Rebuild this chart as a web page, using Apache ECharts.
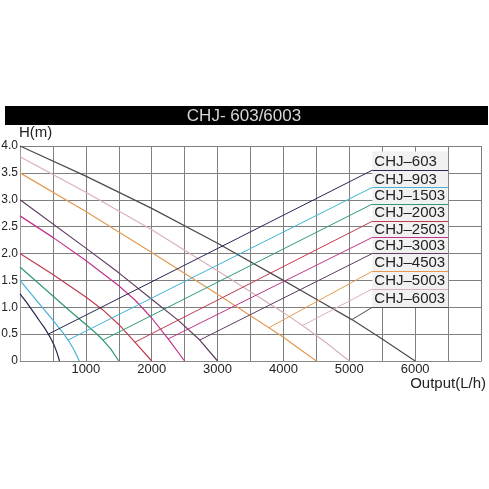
<!DOCTYPE html>
<html>
<head>
<meta charset="utf-8">
<script src="https://cdn.jsdelivr.net/npm/echarts@6/dist/echarts.min.js"></script>
<style>html,body{margin:0;padding:0;background:#fff;}#c{width:489px;height:489px;}</style>
</head>
<body>
<div id="c"></div>
<script>
const titleText = 'CHJ- 603/6003';
const xName = 'Output(L/h)';
const yName = 'H(m)';
const models = ['CHJ–603','CHJ–903','CHJ–1503','CHJ–2003','CHJ–2503','CHJ–3003','CHJ–4503','CHJ–5003','CHJ–6003'];
const colors = ['#26264f','#45b2d6','#2f9a72','#be3c4e','#c2338c','#5e3d60','#e39a52','#d9b1ba','#4b4b4b'];

// pump curves: [flow L/h, head m]
const c603  = [[0,1.25],[100,1.09],[175,0.96],[250,0.83],[300,0.74],[370,0.62],[430,0.5],[480,0.39],[520,0.29],[560,0.16],[600,0]];
const c903  = [[0,1.5],[250,1.13],[500,0.76],[650,0.53],[730,0.39],[820,0.21],[900,0]];
const c1503 = [[0,1.75],[250,1.48],[500,1.21],[750,0.94],[1000,0.68],[1150,0.52],[1260,0.39],[1380,0.22],[1500,0]];
const c2003 = [[0,2.0],[500,1.61],[1000,1.19],[1250,0.96],[1500,0.68],[1745,0.35],[2000,0]];
const c2503 = [[0,2.7],[500,2.3],[1000,1.87],[1500,1.4],[1750,1.13],[2000,0.8],[2250,0.41],[2500,0]];
const c3003 = [[0,3.0],[1000,2.1],[1500,1.64],[2000,1.15],[2400,0.76],[2730,0.39],[3000,0]];
const c4503 = [[0,3.5],[1000,2.78],[2000,2.02],[3000,1.24],[3500,0.84],[3780,0.62],[4000,0.44],[4250,0.22],[4500,0]];
const c5003 = [[0,3.8],[1000,3.14],[2000,2.44],[3000,1.68],[3500,1.29],[4000,0.9],[4290,0.66],[4650,0.34],[5000,0]];
const c6003 = [[0,4.0],[1000,3.44],[2000,2.84],[3000,2.19],[4000,1.5],[4500,1.15],[5040,0.77],[5500,0.41],[6000,0]];
const curves = [c603,c903,c1503,c2003,c2503,c3003,c4503,c5003,c6003];

// leader arrows: tip on curve, and label underline height
const arrowTips = [[430,0.5],[730,0.39],[1260,0.39],[1745,0.35],[2250,0.41],[2730,0.39],[3780,0.62],[4290,0.66],[5040,0.77]];
const labelY = [3.55,3.23,2.92,2.6,2.3,2.0,1.67,1.34,1.0];
const labelX0 = 5350, labelX1 = 6500;

const xTicks = [1000,2000,3000,4000,5000,6000];

const FONT = '"Liberation Sans", Arial, Helvetica, sans-serif';

const series = curves.map((c, i) => ({
  name: models[i],
  type: 'line',
  data: c,
  smooth: false,
  showSymbol: false,
  silent: true,
  lineStyle: { color: colors[i], width: 1.2, join: 'round' },
  z: 3,
  markLine: {
    silent: true,
    symbol: ['none','arrow'],
    symbolSize: [0, 7],
    label: { show: false },
    lineStyle: { color: colors[i], width: 1, type: 'solid' },
    data: [
      [{ coord: [labelX0, labelY[i]], symbol: 'none' }, { coord: arrowTips[i], symbol: 'arrow' }],
      [{ coord: [labelX0, labelY[i]], symbol: 'none' }, { coord: [labelX1, labelY[i]], symbol: 'none' }]
    ]
  },
  markPoint: {
    silent: true,
    symbol: 'circle',
    symbolSize: 0,
    data: [{
      coord: [labelX0, labelY[i]],
      label: {
        show: true, position: 'right', distance: 2, offset: [0, -8],
        formatter: models[i], color: '#222', fontSize: 15, fontFamily: FONT
      }
    }]
  },
  markArea: i === 0 ? {
    silent: true,
    itemStyle: { color: '#f1f1f1' },
    data: [[{ coord: [labelX0, 3.9] }, { coord: [labelX1, 1.0] }]]
  } : undefined
}));

const chart = echarts.init(document.getElementById('c'), null, { renderer: 'canvas' });
chart.setOption({
  animation: false,
  backgroundColor: '#fff',
  textStyle: { fontFamily: FONT },
  grid: { left: 20, right: 8, top: 146, bottom: 128, containLabel: false, outerBoundsMode: 'none' },
  xAxis: {
    type: 'value', min: 0, max: 7000, interval: 500,
    axisLine: { show: true, lineStyle: { color: '#888', width: 1 } },
    axisTick: { show: false },
    axisLabel: { margin: 2, fontSize: 13, color: '#222', fontFamily: FONT,
      formatter: v => xTicks.indexOf(v) >= 0 ? String(v) : '' },
    splitLine: { show: true, lineStyle: { color: '#7f7f7f', width: 1 } }
  },
  yAxis: {
    type: 'value', min: 0, max: 4, interval: 0.5,
    name: yName, nameLocation: 'end', nameGap: 3,
    nameTextStyle: { align: 'left', verticalAlign: 'bottom', fontSize: 15, color: '#222', fontFamily: FONT, padding: [0,0,0,-1] },
    axisLine: { show: true, lineStyle: { color: '#999', width: 1 } },
    axisTick: { show: false },
    axisLabel: { margin: 2, fontSize: 12, color: '#222', fontFamily: FONT,
      formatter: v => v === 0 ? '0' : v.toFixed(1) },
    splitLine: { show: true, lineStyle: { color: '#7f7f7f', width: 1 } }
  },
  graphic: [
    { type: 'rect', left: 5, top: 106, shape: { width: 483, height: 19 }, style: { fill: '#000' }, silent: true },
    { type: 'text', x: 244, y: 116, style: { text: titleText, fill: '#d6d6d6', font: '17px ' + FONT, textAlign: 'center', textVerticalAlign: 'middle' }, silent: true },
    { type: 'text', x: 486, y: 384, style: { text: xName, fill: '#222', font: '15px ' + FONT, textAlign: 'right', textVerticalAlign: 'middle' }, silent: true }
  ],
  series: series
});
</script>
</body>
</html>
